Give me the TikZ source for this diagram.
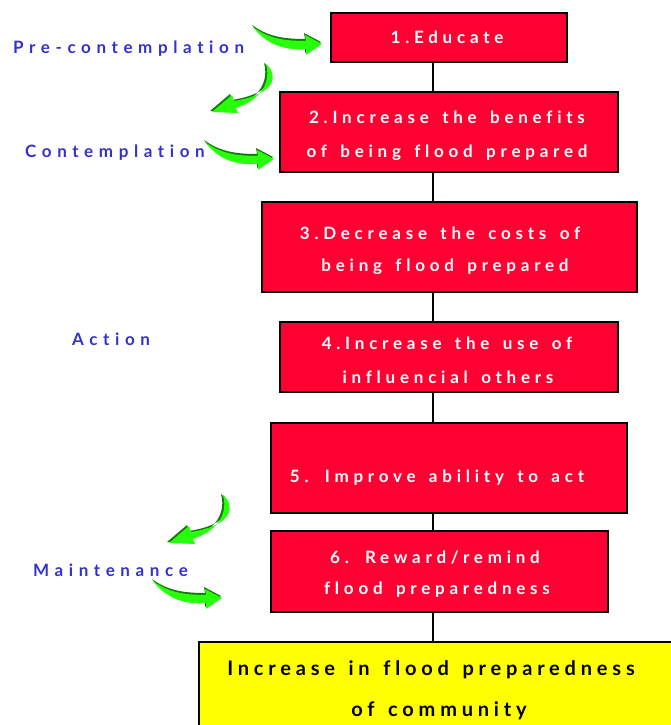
\documentclass[tikz,border=0pt]{standalone}
\usepackage{fontspec}
\setmainfont{Lato}
\newfontfamily\boxfont[LetterSpace=28,WordSpace=1.5,Ligatures=NoCommon]{Lato}
\newfontfamily\stagefont[LetterSpace=33,Ligatures=NoCommon]{Lato}
\newfontfamily\goalfont[LetterSpace=24,WordSpace=1.4,Ligatures=NoCommon]{Lato}
\definecolor{boxred}{RGB}{255,0,51}
\definecolor{goalyellow}{RGB}{255,255,0}
\definecolor{stageblue}{RGB}{51,51,204}
\definecolor{arrgreen}{RGB}{40,255,10}
\definecolor{arrdark}{RGB}{20,120,10}
\tikzset{
  stepbox/.style={draw=black, line width=2pt, fill=boxred, inner sep=0pt},
  steptext/.style={text=white, font=\boxfont\bfseries\fontsize{17}{20}\selectfont, inner sep=0pt, anchor=base},
  goalbox/.style={draw=black, line width=2pt, fill=goalyellow, inner sep=0pt},
  goaltext/.style={text=black, font=\goalfont\bfseries\fontsize{20}{24}\selectfont, inner sep=0pt, anchor=base},
  stage/.style={text=stageblue, font=\stagefont\bfseries\fontsize{17}{19}\selectfont, inner sep=0pt, anchor=base west},
  link/.style={draw=black, line width=1.6pt},
  pics/rarrow/.style={code={
    \fill[arrdark] (-1,-2) .. controls (14,9) and (29,12) .. (52,12) -- (51,6) -- (68,15) -- (52,26)
       -- (52,20) .. controls (29,22) and (11,14) .. (-1,-2) -- cycle;
    \fill[arrgreen] (0,0) .. controls (15,11) and (30,14) .. (53,14) -- (52,8) -- (69,17) -- (53,28)
       -- (53,22) .. controls (30,24) and (12,16) .. (0,0) -- cycle;
  }},
  pics/darrow/.style={code={
    \fill[arrdark] (-2,-1) .. controls (10,9) and (10,29) .. (-34,36) -- (-36,30) -- (-56,47) -- (-30,48)
       -- (-32,43) .. controls (-2,33) and (2,13) .. (-2,-1) -- cycle;
    \fill[arrgreen] (0,0) .. controls (12,10) and (12,30) .. (-32,37) -- (-34,31) -- (-54,48) -- (-28,49)
       -- (-30,44) .. controls (0,34) and (4,14) .. (0,0) -- cycle;
  }}
}
\begin{document}
\begin{tikzpicture}[x=1pt,y=-1pt]
\useasboundingbox (0,0) rectangle (671,725);
\fill[white] (0,0) rectangle (671,725);
\coordinate (spine) at (433,0);
% boxes
\node[stepbox, minimum width=236pt, minimum height=49pt] (b1) at (449,37.5) {};
\node[stepbox, minimum width=338pt, minimum height=80pt] (b2) at (449,132) {};
\node[stepbox, minimum width=375pt, minimum height=90pt] (b3) at (449.5,247) {};
\node[stepbox, minimum width=338pt, minimum height=70pt] (b4) at (449,357) {};
\node[stepbox, minimum width=356pt, minimum height=90pt] (b5) at (449,468) {};
\node[stepbox, minimum width=337pt, minimum height=81pt] (b6) at (439.5,571.5) {};
\node[goalbox, minimum width=500pt, minimum height=100pt, anchor=north west] (g) at (198,641) {};
% box texts
\node[steptext] (t1) at (447,44) {1.Educate};
\node[steptext] (t2a) at (447,123) {2.Increase the benefits};
\node[steptext] (t2b) at (447,157) {of being flood prepared};
\node[steptext] (t3a) at (440,239) {3.Decrease the costs of};
\node[steptext] (t3b) at (445,271) {being flood prepared};
\node[steptext] (t4a) at (447,349) {4.Increase the use of};
\node[steptext] (t4b) at (448,383) {influencial others};
\node[steptext] (t5) at (437,482) {5. Improve ability to act};
\node[steptext] (t6a) at (435,563) {6. Reward/remind};
\node[steptext] (t6b) at (437,594) {flood preparedness};
\node[goaltext] (gta) at (431,675) {Increase in flood preparedness};
\node[goaltext] (gtb) at (439,716) {of community};
% connectors
\draw[link] (b1.south -| spine) -- (b2.north -| spine);
\draw[link] (b2.south -| spine) -- (b3.north -| spine);
\draw[link] (b3.south -| spine) -- (b4.north -| spine);
\draw[link] (b4.south -| spine) -- (b5.north -| spine);
\draw[link] (b5.south -| spine) -- (b6.north -| spine);
\draw[link] (b6.south -| spine) -- (g.north -| spine);
% stage labels
\node[stage] (s1) at (13,53) {Pre-contemplation};
\node[stage] (s2) at (25,157) {Contemplation};
\node[stage] (s3) at (72,345) {Action};
\node[stage] (s4) at (33,576) {Maintenance};
% green arrows
\pic at (253,27) {rarrow};
\pic at (266,64) {darrow};
\pic at (205,142) {rarrow};
\pic at (223,495) {darrow};
\pic at (153,581) {rarrow};
\end{tikzpicture}
\end{document}
